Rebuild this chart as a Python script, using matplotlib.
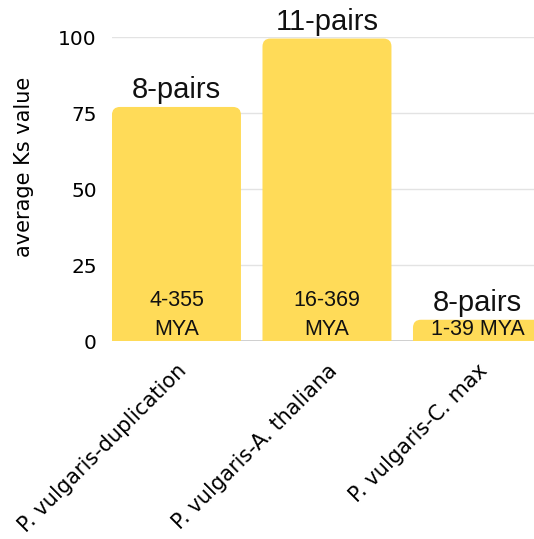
import numpy as np
import matplotlib
matplotlib.use('Agg')
import matplotlib.pyplot as plt
from matplotlib.patches import FancyBboxPatch

# 数据
categories = ["P. vulgaris-duplication", "P. vulgaris-A. thaliana", "P. vulgaris-C. max"]
ks_values = [77, 99.5, 7]
pair_labels = ["8-pairs", "11-pairs", "8-pairs"]
mya_labels = ["4-355\nMYA", "16-369\nMYA", "1-39 MYA"]
yticks = [0, 25, 50, 75, 100]

bar_color = '#FFDB58'
tick_font = 'DejaVu Sans'
note_font = 'Liberation Sans'

fig = plt.figure(figsize=(5.34, 5.39), dpi=100)
# 坐标区右侧超出画布，与原图一致被裁切
ax = fig.add_axes([0.2097, 0.3673, 0.8455, 0.564])

width = 0.857
x = np.arange(len(categories))
ax.set_xlim(-0.5 * width, len(categories) - 1 + 0.5 * width + (1 - width))
ax.set_ylim(0, 100)

# 圆角柱子（只保留上方圆角）
fig.canvas.draw()
bb = ax.get_window_extent()
px_x = bb.width / (ax.get_xlim()[1] - ax.get_xlim()[0])
px_y = bb.height / (ax.get_ylim()[1] - ax.get_ylim()[0])
r = 8 / px_x
for xi, v in zip(x, ks_values):
    p = FancyBboxPatch((xi - width / 2, -10), width, v + 10,
                       boxstyle=f"round,pad=0,rounding_size={r}",
                       mutation_aspect=px_x / px_y,
                       facecolor=bar_color, edgecolor='none', zorder=2)
    ax.add_patch(p)

for xi, v, lab in zip(x, ks_values, pair_labels):
    ax.annotate(lab, (xi, v), xytext=(0, 2), textcoords='offset points',
                ha='center', va='bottom', fontsize=21, family=note_font,
                color='#111111', clip_on=False, zorder=3)

for xi, lab in zip(x, mya_labels):
    ax.text(xi, 0.2, lab, ha='center', va='bottom', fontsize=15.5,
            family=note_font, color='#111111', linespacing=1.5, zorder=3)

ax.set_yticks(yticks)
ax.set_yticklabels([str(t) for t in yticks], family=tick_font, fontsize=14.5)
ax.set_xticks(x)
ax.set_xticklabels(categories, rotation=45, ha='right', va='top',
                   rotation_mode='anchor', family=tick_font, fontsize=15)
ax.tick_params(axis='both', length=0)
ax.tick_params(axis='y', pad=11)
ax.tick_params(axis='x', pad=14)
ax.set_ylabel('average Ks value', family=tick_font, fontsize=15)
ax.yaxis.set_label_coords(-0.173, 0.572)

ax.yaxis.grid(True, color='#e3e3e3', linewidth=1)
ax.set_axisbelow(True)
for s in ax.spines.values():
    s.set_visible(False)
ax.axhline(0, color='#c8c8c8', linewidth=1.2, zorder=1)

fig.savefig('out.png', dpi=100)
